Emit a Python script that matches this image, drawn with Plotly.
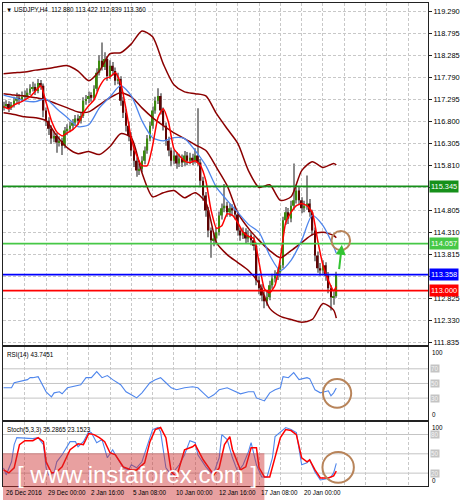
import plotly.graph_objects as go

# ---------------- data ----------------
BARS = list(range(126))

OPEN = [117.12,117.16,117.20,117.11,117.18,117.27,117.34,117.29,117.36,117.38,
        117.45,117.54,117.58,117.49,117.67,117.61,117.05,116.82,116.64,116.42,
        116.48,116.33,116.37,116.26,116.60,116.64,116.71,116.78,116.87,116.82,
        116.93,117.27,117.31,117.38,117.34,117.54,117.90,118.17,118.03,118.21,
        117.83,118.06,117.94,117.72,117.76,117.27,117.00,116.71,116.48,116.15,
        115.92,115.70,115.74,115.92,116.15,116.42,116.71,117.05,117.27,117.38,
        117.05,116.71,116.37,116.15,115.92,116.04,115.86,115.97,115.88,116.04,
        115.92,115.99,115.92,116.04,115.88,115.47,115.14,114.80,114.35,114.13,
        114.17,114.31,114.69,114.85,114.91,114.76,114.85,114.80,114.71,114.35,
        114.24,114.31,114.17,114.24,114.13,114.01,113.23,113.05,112.89,112.76,
        112.85,113.12,113.27,113.34,113.41,113.57,114.58,114.76,114.62,114.91,
        115.03,115.25,115.03,114.85,114.91,114.96,114.76,114.35,113.79,113.50,
        113.45,113.57,113.34,113.05,112.85,112.880]

HIGH = [117.25,117.28,117.26,117.24,117.36,117.45,117.42,117.48,117.50,117.55,
        117.64,117.70,117.66,117.76,117.74,117.66,117.12,116.90,116.72,116.58,
        116.55,116.47,116.44,116.68,116.74,116.80,116.86,116.95,116.96,117.02,
        117.35,117.40,117.48,117.46,117.62,118.00,118.30,118.58,118.36,118.28,
        118.18,118.14,118.02,117.90,117.82,117.36,117.08,116.80,116.56,116.24,
        116.00,115.86,116.02,116.24,116.50,116.80,117.14,117.36,117.55,117.44,
        117.12,116.78,116.46,116.22,116.16,116.12,116.08,116.06,116.14,116.12,
        116.10,116.08,116.20,117.10,115.96,115.56,115.22,114.88,114.42,114.30,
        114.42,114.78,114.96,115.40,115.00,114.96,114.94,114.90,114.78,114.42,
        114.42,114.40,114.36,114.32,114.22,114.08,113.32,113.14,112.98,112.98,
        113.22,113.38,113.46,113.50,113.66,114.66,114.88,114.86,115.02,115.86,
        115.38,115.34,115.10,115.02,115.59,115.06,114.82,114.42,113.88,113.62,
        113.68,113.64,113.42,113.12,112.98,113.422]

LOW = [117.05,117.10,117.02,117.06,117.12,117.22,117.18,117.24,117.30,117.32,
       117.40,117.48,117.40,117.44,117.52,116.90,116.70,116.50,116.30,116.34,
       116.10,116.24,116.05,116.20,116.50,116.56,116.62,116.70,116.72,116.76,
       116.88,117.18,117.22,117.25,117.28,117.48,117.84,117.95,117.96,117.72,
       117.76,117.84,117.62,117.64,117.16,116.88,116.58,116.36,116.02,115.78,
       115.56,115.60,115.66,115.84,116.08,116.36,116.64,116.98,117.20,116.96,
       116.60,116.26,116.02,115.80,115.84,115.74,115.78,115.78,115.80,115.82,
       115.84,115.82,115.86,115.80,115.36,115.02,114.66,114.20,113.74,114.00,
       114.06,114.24,114.60,114.76,114.66,114.66,114.70,114.60,114.24,114.12,
       114.16,114.06,114.08,114.02,113.90,113.12,112.92,112.76,112.60,112.66,
       112.78,113.04,113.18,113.24,113.30,113.50,114.48,114.50,114.54,114.82,
       114.96,114.92,114.74,114.76,114.82,114.66,114.24,113.66,113.40,113.34,
       113.38,113.22,112.94,112.55,112.68,112.839]

CLOSE = [117.16,117.20,117.11,117.18,117.27,117.34,117.29,117.36,117.38,117.45,
         117.54,117.58,117.49,117.67,117.61,117.05,116.82,116.64,116.42,116.48,
         116.33,116.37,116.26,116.60,116.64,116.71,116.78,116.87,116.82,116.93,
         117.27,117.31,117.38,117.34,117.54,117.90,118.17,118.03,118.21,117.83,
         118.06,117.94,117.72,117.76,117.27,117.00,116.71,116.48,116.15,115.92,
         115.70,115.74,115.92,116.15,116.42,116.71,117.05,117.27,117.38,117.05,
         116.71,116.37,116.15,115.92,116.04,115.86,115.97,115.88,116.04,115.92,
         115.99,115.92,116.04,115.88,115.47,115.14,114.80,114.35,114.13,114.17,
         114.31,114.69,114.85,114.91,114.76,114.85,114.80,114.71,114.35,114.24,
         114.31,114.17,114.24,114.13,114.01,113.23,113.05,112.89,112.76,112.85,
         113.12,113.27,113.34,113.41,113.57,114.58,114.76,114.62,114.91,115.03,
         115.25,115.03,114.85,114.91,114.96,114.76,114.35,113.79,113.50,113.45,
         113.57,113.34,113.05,112.85,112.88,113.360]

BAND_IDX = [0,4,8,12,16,20,24,28,32,36,40,44,48,52,56,60,64,68,72,76,80,84,88,92,
            96,100,104,108,112,116,120,124,125]
BB_UPPER = [117.88,117.90,117.92,117.96,117.99,118.03,118.06,117.94,117.72,117.94,
            118.33,118.35,118.55,118.84,118.71,118.10,117.63,117.47,117.43,117.38,
            116.98,116.64,116.31,115.70,115.32,115.38,115.03,115.11,115.70,115.90,
            115.77,115.86,115.83]
BB_MID = [117.43,117.40,117.38,117.34,117.29,117.20,117.11,117.02,117.02,117.18,
          117.34,117.45,117.36,117.11,116.89,116.71,116.55,116.42,116.28,116.15,
          115.77,115.36,114.75,114.40,114.13,113.90,113.74,113.90,114.08,114.26,
          114.31,114.24,114.19]
BB_LOWER = [117.00,116.96,116.91,116.89,116.82,116.48,116.21,116.08,116.13,116.06,
            116.24,116.53,116.44,115.65,115.11,115.20,115.25,115.09,115.20,114.98,
            114.08,113.81,113.63,113.45,113.16,112.60,112.42,112.35,112.29,112.35,
            112.71,112.56,112.38]
MA_SLOW = [117.40,117.34,117.27,117.25,117.31,117.09,116.89,116.69,116.73,117.11,
           117.36,117.61,117.38,116.82,116.44,116.37,116.44,116.42,116.15,115.81,
           115.32,115.03,114.76,114.49,114.31,113.79,113.45,113.68,114.13,114.69,
           114.46,113.99,113.84]

FAST_IDX = [0,2,4,6,8,10,12,14,16,18,20,22,24,26,28,30,32,34,36,38,40,42,44,46,48,
            50,52,54,56,58,60,62,64,66,68,70,72,74,76,78,80,82,84,86,88,90,92,94,96,
            98,100,102,104,106,108,110,112,114,116,118,120,122,124,125]
MA_FAST = [117.14,117.09,117.18,117.23,117.29,117.36,117.49,117.61,117.23,116.82,
           116.57,116.48,116.55,116.62,116.75,117.00,117.16,117.29,117.58,117.76,
           117.81,117.90,117.67,117.09,116.42,116.04,115.81,115.81,116.26,116.89,
           117.09,116.78,116.19,116.04,115.92,115.88,115.92,115.81,115.47,114.80,
           114.40,114.46,114.73,114.69,114.53,114.31,114.22,114.17,113.63,113.04,
           112.95,113.12,113.73,114.53,114.76,114.91,114.96,114.91,114.76,114.13,
           113.57,113.23,113.00,113.09]

RSI_IDX = [0,3,4,6,9,10,11,13,14,16,18,19,21,22,24,26,29,31,33,35,37,39,41,44,46,
           48,50,52,55,57,59,61,63,65,68,71,73,75,77,79,81,84,87,89,92,94,95,97,98,
           100,102,104,105,107,109,111,114,115,117,119,122,123,124,125]
RSI_VALS = [44.1,44.1,51.0,52.4,55.2,57.9,57.9,59.3,52.4,38.6,31.7,37.2,38.6,35.9,
            44.1,45.5,48.3,57.9,57.9,66.2,57.9,60.7,55.2,48.3,38.6,34.5,30.3,37.2,
            51.0,55.2,57.9,51.0,44.1,41.4,44.1,45.5,44.1,37.2,30.3,34.5,41.4,44.1,
            38.6,35.9,38.6,38.6,30.3,27.6,26.2,37.2,41.4,44.1,59.3,57.9,64.8,55.2,
            57.9,56.6,41.4,37.2,40.0,33.1,37.2,43.75]

K_IDX = [0,1,3,4,5,9,11,13,15,16,17,19,20,22,25,27,28,30,32,33,35,37,39,41,42,45,
         47,48,50,52,54,56,58,59,61,63,66,68,70,72,73,76,78,79,81,82,84,86,88,90,
         92,93,95,97,99,101,102,104,106,108,110,112,114,115,117,119,121,123,124,125]
STOCH_K = [28.2,17.2,37.6,64.2,75.1,73.6,73.6,75.1,64.2,28.2,17.2,20.3,37.6,48.5,
           68.9,68.9,61.0,68.9,84.5,82.9,67.3,72.0,43.8,56.3,48.5,28.2,25.0,32.9,
           28.2,37.6,64.2,87.6,90.8,84.5,28.2,17.2,32.9,48.5,70.4,67.3,48.5,29.7,
           20.3,20.3,43.8,79.8,72.0,43.8,21.9,32.9,53.2,67.3,32.9,14.1,14.1,43.8,
           76.7,84.5,90.8,87.6,82.9,32.9,36.0,40.7,21.9,9.4,11.0,14.1,20.3,35.29]

D_IDX = [0,2,4,6,8,11,13,15,16,18,20,22,25,28,30,32,34,36,38,40,42,45,48,50,53,55,
         57,59,61,63,65,66,68,71,72,75,77,79,81,83,85,86,89,91,93,95,96,98,100,102,
         104,106,108,110,112,114,115,117,119,122,124,125]
STOCH_D = [25.0,20.3,28.2,64.2,70.4,70.4,75.1,68.9,37.6,20.3,21.9,29.7,56.3,65.7,
           64.2,81.4,79.8,75.1,68.9,51.6,48.5,29.7,25.0,25.0,36.0,68.9,87.6,90.8,
           75.1,21.9,14.1,28.2,56.3,61.0,64.2,40.7,28.2,17.2,28.2,64.2,76.7,56.3,
           25.0,29.7,59.5,59.5,28.2,14.1,14.1,43.8,75.1,87.6,86.1,79.8,43.8,37.6,
           40.7,25.0,12.5,12.5,15.6,23.15]

PRICE_TICKS = [119.290,118.795,118.285,117.790,117.295,116.800,116.305,115.810,
               115.315,114.805,114.310,113.815,113.320,112.825,112.330,111.835]
PRICE_TICK_TEXT = ['119.290','118.795','118.285','117.790','117.295','116.800',
                   '116.305','115.810','','114.805','114.310','113.815','',
                   '112.825','112.330','111.835']

LEVELS = [115.345, 114.057, 113.358, 113.000]
LEVEL_TEXT = ['115.345', '114.057', '113.358', '113.000']
LEVEL_COLORS = ['#16901a', '#46c846', '#0000ff', '#ff0000']

DATE_POS = [0, 16, 32, 48, 64, 80, 96, 112]
DATE_TEXT = ['26 Dec 2016', '29 Dec 00:00', '2 Jan 16:00', '5 Jan 08:00',
             '10 Jan 00:00', '12 Jan 16:00', '17 Jan 08:00', '20 Jan 00:00']
GRID_POS = list(range(0, 160, 8))

RSI_LEVELS = [70, 50, 30]
STOCH_LEVELS = [80, 50, 20]

# ---------------- styling ----------------
FONT = 'Liberation Sans, Arial, sans-serif'
FS = 7.4          # price axis labels
FS_SMALL = 6.3    # titles, dates, oscillator scales
GRID = '#c8c8c8'
DASH = '3px,2px'
XR = [-0.2, 159.45]
BAND_COLOR = '#8b0000'
BLUE = '#4f86ec'

fig = go.Figure()

# candle wicks and bodies
fig.add_trace(go.Bar(x=BARS, base=LOW, y=[h - l for h, l in zip(HIGH, LOW)],
                     width=0.4, marker=dict(color='#8a8a8a', line=dict(width=0)),
                     xaxis='x', yaxis='y', hoverinfo='skip'))
body_colors = ['#3b8a0e' if c >= o else '#5c0404' for o, c in zip(OPEN, CLOSE)]
fig.add_trace(go.Bar(x=BARS, base=OPEN, y=[c - o for o, c in zip(OPEN, CLOSE)],
                     width=0.66, marker=dict(color=body_colors, line=dict(width=0)),
                     xaxis='x', yaxis='y', hoverinfo='skip'))

# indicators on price
for vals in (BB_UPPER, BB_MID, BB_LOWER):
    fig.add_trace(go.Scatter(x=BAND_IDX, y=vals, mode='lines',
                             line=dict(color=BAND_COLOR, width=1.5, shape='spline', smoothing=0.7),
                             xaxis='x', yaxis='y'))
fig.add_trace(go.Scatter(x=BAND_IDX, y=MA_SLOW, mode='lines',
                         line=dict(color=BLUE, width=1.3, shape='spline', smoothing=0.7),
                         xaxis='x', yaxis='y'))
fig.add_trace(go.Scatter(x=FAST_IDX, y=MA_FAST, mode='lines',
                         line=dict(color='#ff0000', width=1.5, shape='spline', smoothing=0.5),
                         xaxis='x', yaxis='y'))

# RSI
fig.add_trace(go.Scatter(x=RSI_IDX, y=RSI_VALS, mode='lines',
                         line=dict(color=BLUE, width=1.1), xaxis='x2', yaxis='y2'))
# Stochastic
fig.add_trace(go.Scatter(x=K_IDX, y=STOCH_K, mode='lines',
                         line=dict(color=BLUE, width=1.1), xaxis='x3', yaxis='y3'))
fig.add_trace(go.Scatter(x=D_IDX, y=STOCH_D, mode='lines',
                         line=dict(color='#ff0000', width=1.5), xaxis='x3', yaxis='y3'))

# ---------------- layout ----------------
def xa(anchor, **kw):
    d = dict(anchor=anchor, domain=[0, 1], range=XR, tickvals=GRID_POS,
             showticklabels=False, ticks='', showgrid=True, gridcolor=GRID,
             griddash=DASH, gridwidth=1, zeroline=False, showline=True,
             mirror=True, linecolor='#222222', linewidth=1)
    d.update(kw)
    return d

def ya(domain, rng, **kw):
    d = dict(domain=domain, range=rng, zeroline=False, showline=True, mirror=True,
             linecolor='#222222', linewidth=1, side='right')
    d.update(kw)
    return d

shapes = []
annotations = []

for lvl, col in zip(LEVELS, LEVEL_COLORS):
    shapes.append(dict(type='line', xref='x domain', yref='y', x0=0, x1=1, y0=lvl, y1=lvl,
                       line=dict(color=col, width=1.8), layer='above'))
for txt, lvl, col in zip(LEVEL_TEXT, LEVELS, LEVEL_COLORS):
    annotations.append(dict(xref='paper', yref='y', x=1, y=lvl, xanchor='left', yanchor='middle',
                            xshift=1, text=txt, showarrow=False, bgcolor=col, borderpad=1,
                            font=dict(family=FONT, size=FS, color='white')))

for lv in RSI_LEVELS:
    shapes.append(dict(type='line', xref='x2 domain', yref='y2', x0=0, x1=1, y0=lv, y1=lv,
                       line=dict(color='#c4c4c4', width=1), layer='below'))
for lv in STOCH_LEVELS:
    shapes.append(dict(type='line', xref='x3 domain', yref='y3', x0=0, x1=1, y0=lv, y1=lv,
                       line=dict(color='#c4c4c4', width=1), layer='below'))

# circles and arrow marking the setup
CIRCLE_MAIN = (123.2, 130.2, 113.91, 114.34)
CIRCLE_RSI = (120.0, 130.6, 17.0, 56.0)
CIRCLE_STOCH = (119.8, 131.6, 5.0, 53.0)
CIRCLE_COLOR = '#b8845a'
for ref, c in (('', CIRCLE_MAIN), ('2', CIRCLE_RSI), ('3', CIRCLE_STOCH)):
    shapes.append(dict(type='circle', xref='x' + ref, yref='y' + ref,
                       x0=c[0], x1=c[1], y0=c[2], y1=c[3],
                       line=dict(color=CIRCLE_COLOR, width=2), layer='above'))

ARROW_TIP = (127.1, 114.03)
ARROW_TAIL = (126.0, 113.45)
annotations.append(dict(x=ARROW_TIP[0], y=ARROW_TIP[1], ax=ARROW_TAIL[0], ay=ARROW_TAIL[1],
                        xref='x', yref='y', axref='x', ayref='y', text='', showarrow=True,
                        arrowhead=2, arrowsize=1, arrowwidth=2, arrowcolor='#33c433', standoff=0))

# watermark band
shapes.append(dict(type='rect', xref='paper', yref='paper', x0=0, x1=0.615, y0=-0.03, y1=0.068,
                   fillcolor='rgba(205,45,45,0.45)', line=dict(width=0), layer='above'))
annotations.append(dict(xref='paper', yref='paper', x=0.316, y=0.024, xanchor='center',
                        yanchor='middle', text='[ www.instaforex.com ]', showarrow=False,
                        font=dict(family=FONT, size=24, color='white')))

# titles
annotations.append(dict(xref='paper', yref='paper', x=0, y=1, xanchor='left', yanchor='top',
                        xshift=1, yshift=-1, showarrow=False,
                        text='▼ USDJPY,H4  112.880 113.422 112.839 113.360',
                        font=dict(family=FONT, size=FS_SMALL, color='black')))
annotations.append(dict(xref='x2 domain', yref='y2 domain', x=0, y=1, xanchor='left', yanchor='top',
                        xshift=2, yshift=-2, showarrow=False, text='RSI(14) 43.7451',
                        font=dict(family=FONT, size=FS_SMALL, color='black')))
annotations.append(dict(xref='x3 domain', yref='y3 domain', x=0, y=1, xanchor='left', yanchor='top',
                        xshift=2, yshift=-2, showarrow=False, text='Stoch(5,3,3) 35.2865 23.1523',
                        font=dict(family=FONT, size=FS_SMALL, color='black')))

# right-hand labels of the oscillator panels
for ref, levels in (('y2', RSI_LEVELS), ('y3', STOCH_LEVELS)):
    annotations.append(dict(xref='paper', yref=ref, x=1, y=100, xanchor='left', yanchor='top',
                            xshift=2, showarrow=False, text='100',
                            font=dict(family=FONT, size=FS_SMALL, color='black')))
    annotations.append(dict(xref='paper', yref=ref, x=1, y=0, xanchor='left', yanchor='bottom',
                            xshift=2, showarrow=False, text='0',
                            font=dict(family=FONT, size=FS_SMALL, color='black')))
    for lv in levels:
        annotations.append(dict(xref='paper', yref=ref, x=1, y=lv, xanchor='left', yanchor='middle',
                                xshift=2, showarrow=False, text=str(lv), bgcolor='#c4c4c4',
                                borderpad=0, font=dict(family=FONT, size=FS_SMALL, color='#f4f4f4')))

# date labels
for pos, txt in zip(DATE_POS, DATE_TEXT):
    annotations.append(dict(xref='x3', yref='paper', x=pos, y=0, xanchor='left', yanchor='top',
                            xshift=0, yshift=-1, showarrow=False, text=txt,
                            font=dict(family=FONT, size=FS_SMALL, color='black')))

fig.update_layout(
    width=462, height=500,
    margin=dict(l=2, r=29, t=2, b=14),
    paper_bgcolor='white', plot_bgcolor='white',
    showlegend=False, barmode='overlay',
    xaxis=xa('y'),
    xaxis2=xa('y2', matches='x'),
    xaxis3=xa('y3', matches='x'),
    yaxis=ya([0.2913, 1.0], [111.769, 119.470], tickvals=PRICE_TICKS, ticktext=PRICE_TICK_TEXT,
             ticks='outside', ticklen=3, tickcolor='#222222',
             tickfont=dict(family=FONT, size=FS, color='black'),
             showgrid=True, gridcolor=GRID, griddash=DASH),
    yaxis2=ya([0.1364, 0.2882], [0, 100], showticklabels=False, ticks='', showgrid=False),
    yaxis3=ya([0.0, 0.1333], [0, 100], showticklabels=False, ticks='', showgrid=False),
    shapes=shapes,
    annotations=annotations,
)

fig.write_html('out.html', config={'displayModeBar': False},
               post_script="document.body.style.margin='0px';document.body.style.overflow='hidden';")
